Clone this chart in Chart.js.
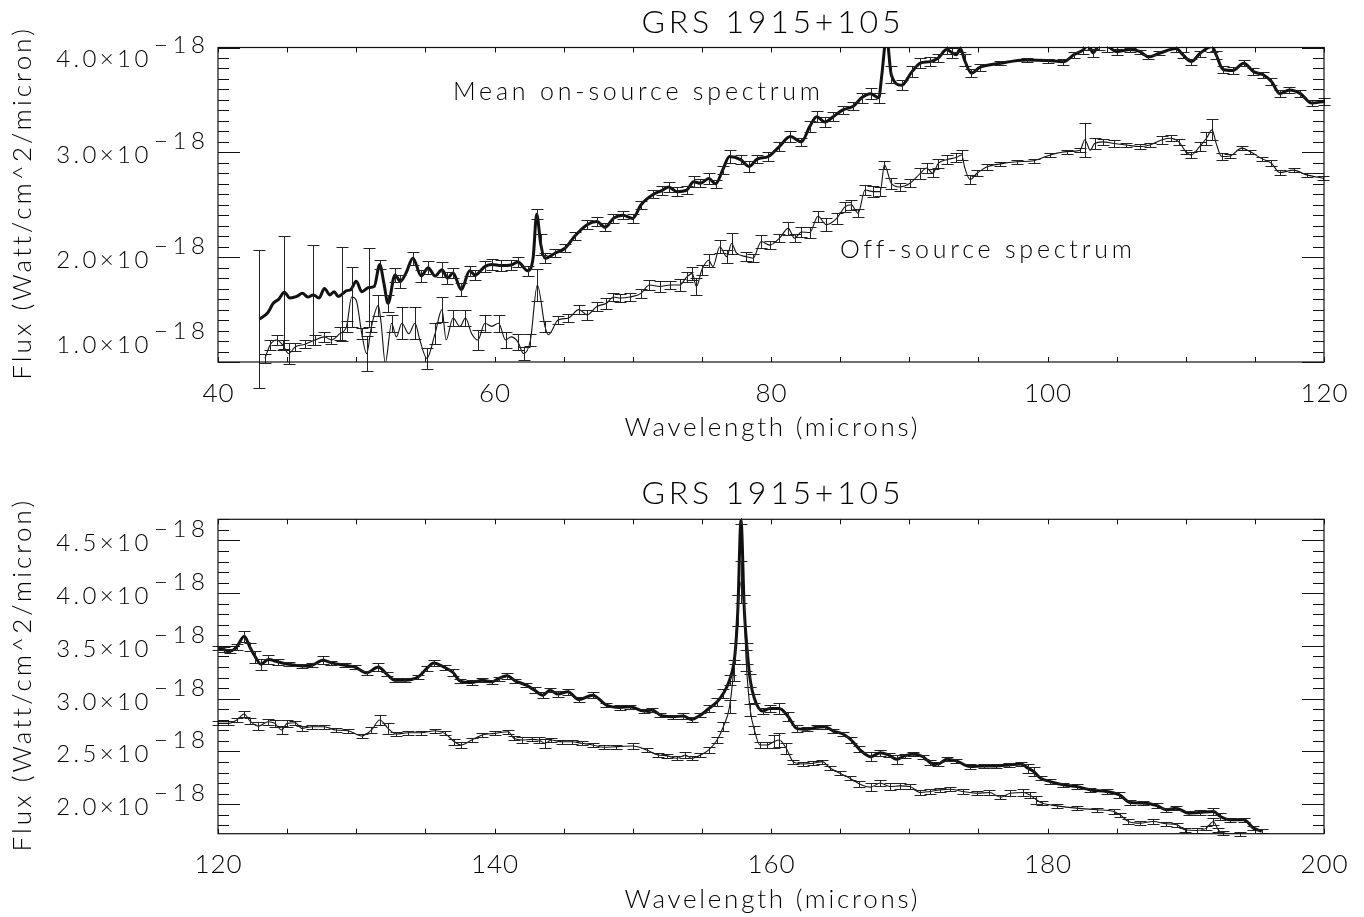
<!DOCTYPE html>
<html>
<head>
<meta charset="utf-8">
<title>GRS 1915+105</title>
<script src="https://cdn.jsdelivr.net/npm/chart.js@4.4.1/dist/chart.umd.min.js"></script>
<style>
  html, body { margin: 0; padding: 0; background: #fff; }
  #wrap { position: relative; width: 1364px; height: 917px; }
  canvas { position: absolute; left: 0; }
</style>
</head>
<body>
<div id="wrap">
  <canvas id="topChart" width="1364" height="458" style="top:0px"></canvas>
  <canvas id="botChart" width="1364" height="459" style="top:458px"></canvas>
</div>
<script>
// flux values are in units of 1e-18 Watt/cm^2/micron

// ----------------------- TOP PANEL (40-120 microns) ----------------------- //
const xTicksA = [40, 60, 80, 100, 120];
const yTicksA = [1.0, 2.0, 3.0, 4.0];

const onWaveA = [43.0,43.6,44.0,44.4,44.8,45.2,45.7,46.1,46.5,46.9,47.3,47.7,48.1,48.4,48.7,49.0,49.3,49.6,50.0,50.4,
  50.9,51.3,51.7,52.0,52.3,52.8,53.2,53.6,54.1,54.7,55.2,55.7,56.2,56.6,57.0,57.6,58.2,58.6,59.3,59.8,
  60.5,61.2,61.7,62.4,62.8,63.05,63.35,63.65,64.4,65.1,65.8,66.7,67.4,68.0,68.6,69.3,70.0,70.6,71.5,72.1,
  72.6,73.2,73.9,74.4,74.9,75.5,76.0,76.5,77.0,77.8,78.4,79.0,79.8,80.6,81.4,82.2,82.8,83.3,83.9,84.5,
  85.2,85.95,86.55,87.2,87.8,88.0,88.36,88.7,89.45,90.2,90.8,91.5,92.1,92.7,93.1,93.4,93.7,94.0,94.5,95.1,
  96.6,98.5,100.0,101.15,101.9,102.6,102.95,103.3,103.7,104.3,105.0,106.0,106.7,107.3,108.1,109.3,109.8,110.4,111.0,111.9,
  112.2,112.7,113.4,114.2,114.9,115.6,116.2,116.8,117.5,118.3,119.1,120.0];
const onFluxA = [1.41,1.47,1.56,1.60,1.665,1.61,1.625,1.655,1.62,1.64,1.61,1.70,1.64,1.67,1.625,1.65,1.68,1.69,1.77,1.67,
  1.71,1.72,1.93,1.75,1.56,1.83,1.77,1.85,1.99,1.82,1.90,1.82,1.88,1.80,1.85,1.69,1.87,1.83,1.91,1.93,
  1.92,1.925,1.955,1.87,2.00,2.41,2.12,1.99,2.04,2.085,2.20,2.31,2.34,2.285,2.37,2.40,2.37,2.50,2.60,2.635,
  2.67,2.625,2.64,2.72,2.705,2.75,2.70,2.83,2.96,2.93,2.865,2.935,2.96,3.055,3.15,3.10,3.245,3.34,3.29,3.34,
  3.405,3.44,3.52,3.56,3.52,3.72,4.10,3.74,3.64,3.77,3.85,3.865,3.90,3.98,3.95,3.93,3.99,3.88,3.755,3.81,
  3.85,3.88,3.875,3.865,3.93,3.98,4.025,3.95,4.01,4.01,3.96,3.98,3.96,3.91,3.945,3.99,3.93,3.865,3.94,4.01,
  3.93,3.79,3.78,3.85,3.77,3.74,3.675,3.56,3.595,3.56,3.47,3.485];
const onErrA = [0.66,0,0,0,0.54,0,0,0,0,0.48,0,0,0,0,0,0.45,0,0,0,0,
  0.38,0,0.04,0,0.08,0.07,0.06,0,0.06,0.06,0.06,0,0.07,0.06,0.05,0.06,0.05,0.05,0.05,0.05,
  0.05,0.05,0.05,0.05,0,0.05,0.10,0.05,0.04,0.04,0.04,0.04,0.04,0.04,0.04,0.04,0.04,0.04,0.04,0.04,
  0.05,0.04,0.04,0.05,0.04,0.05,0.04,0.04,0.06,0.04,0.05,0.04,0.04,0.04,0.05,0.04,0.05,0.05,0.05,0.04,
  0.04,0.04,0.05,0.05,0.05,0,0,0.08,0.05,0.05,0.05,0.04,0.04,0.04,0.05,0,0.03,0.06,0.04,0.03,
  0.02,0.02,0.02,0.03,0.03,0.04,0.05,0.04,0.03,0.05,0.03,0.02,0.02,0.02,0.02,0.03,0.03,0.03,0.03,0.05,
  0.04,0.03,0.03,0.03,0.03,0.03,0.03,0.03,0.03,0.03,0.03,0.03];

const offWaveA = [43.4,43.76,44.24,44.7,45.1,45.6,46.3,47.0,47.7,48.2,48.8,49.3,49.67,50.0,50.4,50.75,51.1,51.6,51.8,52.1,
  52.56,52.9,53.3,53.8,54.25,54.6,55.1,55.7,56.2,56.5,57.0,57.5,57.9,58.35,58.8,59.3,59.8,60.3,60.8,61.2,
  61.7,62.1,62.6,63.1,63.65,63.9,64.6,65.35,66.1,66.7,67.4,68.1,68.6,69.1,69.8,70.6,71.2,71.97,72.7,73.4,
  73.9,74.3,74.6,75.0,75.5,75.8,76.3,76.8,77.15,77.5,78.2,78.7,79.3,79.9,80.6,81.25,81.7,82.2,82.8,83.4,
  84.0,84.75,85.35,85.8,86.3,86.8,87.4,87.9,88.2,88.7,89.3,90.05,90.8,91.25,91.7,92.1,92.7,93.4,93.8,94.0,
  94.4,94.9,95.6,96.6,97.8,99.0,100.2,101.4,102.35,102.7,103.1,103.4,104.0,104.8,105.7,106.7,107.4,108.3,108.9,109.5,
  110.0,110.4,111.0,111.5,111.9,112.2,112.6,113.2,114.05,114.65,115.5,116.2,116.8,117.8,118.75,119.95];
const offFluxA = [1.035,1.16,1.21,1.16,1.08,1.145,1.17,1.21,1.24,1.21,1.27,1.34,1.62,1.59,1.27,1.08,1.34,1.54,1.37,0.99,
  1.37,1.24,1.37,1.27,1.37,1.21,1.035,1.27,1.50,1.21,1.42,1.34,1.42,1.27,1.21,1.37,1.34,1.37,1.21,1.24,
  1.19,1.08,1.21,1.735,1.34,1.26,1.40,1.42,1.50,1.45,1.53,1.56,1.62,1.61,1.62,1.655,1.735,1.72,1.735,1.735,
  1.81,1.845,1.72,1.88,1.97,1.91,2.10,2.005,2.13,2.04,2.005,1.99,2.15,2.115,2.18,2.275,2.18,2.24,2.235,2.39,
  2.31,2.37,2.48,2.50,2.42,2.64,2.625,2.625,2.88,2.705,2.67,2.705,2.80,2.85,2.80,2.895,2.93,2.95,2.975,2.86,
  2.74,2.80,2.86,2.89,2.91,2.92,2.975,3.007,3.02,3.12,3.02,3.085,3.10,3.085,3.07,3.055,3.07,3.12,3.134,3.10,
  3.007,2.975,3.055,3.134,3.214,3.085,2.96,2.965,3.04,3.007,2.94,2.895,2.807,2.83,2.785,2.753];
const offErrA = [0.04,0.05,0.05,0.05,0.10,0.04,0.04,0.05,0.05,0.04,0.06,0.05,0.29,0,0.05,0.17,0.05,0.10,0,0,
  0.08,0,0.15,0,0.15,0,0.10,0.10,0.12,0,0.08,0,0.08,0,0.10,0.08,0,0.08,0.08,0,
  0.08,0.06,0.06,0.15,0.05,0,0.04,0.04,0.04,0.05,0.04,0.05,0.04,0.04,0.04,0.04,0.05,0.05,0.04,0.06,
  0.05,0.06,0.08,0.05,0.06,0,0.06,0.06,0.10,0,0.04,0.04,0.06,0.04,0.04,0.06,0.04,0.05,0.05,0.05,
  0.06,0.05,0.05,0.05,0.04,0.05,0.05,0.04,0.04,0.05,0.04,0.04,0.05,0.05,0.04,0.04,0.04,0.04,0.05,0,
  0.04,0.03,0.03,0.02,0.02,0.02,0.02,0.02,0.02,0.16,0,0.05,0.03,0.03,0.02,0.02,0.02,0.04,0.03,0.03,
  0.02,0.03,0.04,0.06,0.10,0,0.03,0.02,0.02,0.02,0.02,0.03,0.02,0.02,0.02,0.02];

// ----------------------- BOTTOM PANEL (120-200 microns) ----------------------- //
const xTicksB = [120, 140, 160, 180, 200];
const yTicksB = [2.0, 2.5, 3.0, 3.5, 4.0, 4.5];

const onWaveB = [120.0,120.4,120.9,121.35,121.9,122.3,122.7,123.1,123.64,124.36,125.1,126.05,126.8,127.6,128.2,129.2,129.9,130.75,131.6,132.2,
  132.8,133.5,134.5,135.1,135.6,136.4,137.0,137.5,138.35,139.1,139.8,140.3,140.9,141.5,142.3,142.9,143.5,144.0,144.6,145.3,
  146.1,147.1,148.1,149.1,149.8,150.8,151.4,152.0,152.9,153.65,154.25,154.9,155.5,156.1,156.55,157.0,157.4,157.6,157.83,158.07,
  158.3,158.5,158.8,159.4,159.9,160.6,161.25,161.85,162.6,163.3,163.9,164.5,165.2,165.8,166.4,167.2,167.9,168.5,169.1,169.7,
  170.3,171.0,171.5,172.1,172.7,173.4,174.4,175.4,176.3,177.2,178.1,178.6,179.0,179.5,180.2,181.15,182.1,183.1,184.3,185.2,
  185.97,186.9,187.9,188.6,189.3,190.2,191.0,192.0,192.5,193.2,194.2,194.9,195.5];
const onFluxB = [3.48,3.465,3.452,3.49,3.591,3.49,3.396,3.326,3.37,3.348,3.326,3.31,3.317,3.364,3.339,3.317,3.30,3.245,3.30,3.232,
  3.175,3.175,3.207,3.286,3.339,3.295,3.248,3.169,3.153,3.175,3.16,3.19,3.216,3.169,3.128,3.08,3.033,3.08,3.043,3.065,
  2.992,3.033,2.939,2.917,2.923,2.882,2.892,2.844,2.829,2.835,2.803,2.844,2.907,2.97,3.049,3.175,3.427,3.837,4.69,3.837,
  3.427,3.175,3.002,2.882,2.907,2.907,2.829,2.718,2.709,2.728,2.734,2.693,2.665,2.608,2.52,2.45,2.488,2.466,2.425,2.46,
  2.476,2.45,2.394,2.381,2.425,2.41,2.356,2.362,2.362,2.372,2.381,2.34,2.309,2.246,2.214,2.183,2.167,2.135,2.12,2.088,
  2.016,2.01,1.987,1.947,1.962,1.915,1.921,1.931,1.883,1.852,1.852,1.773,1.742];
const onErrB = [0.02,0.02,0.02,0.03,0.05,0.04,0.06,0.05,0.04,0.03,0.02,0.02,0.02,0.04,0.02,0.02,0.02,0.02,0.04,0.02,
  0.02,0.02,0.02,0.02,0.03,0.02,0.03,0.02,0.02,0.02,0.02,0.02,0.03,0.02,0.02,0.03,0.03,0.02,0.03,0.03,
  0.02,0.03,0.02,0.02,0.02,0.02,0.02,0.02,0.02,0.03,0.02,0.02,0.03,0.04,0.04,0.05,0.10,0.15,0.03,0.15,
  0.10,0.06,0.04,0.03,0.03,0.05,0.04,0.03,0.02,0.02,0.02,0.02,0.02,0.03,0.03,0.04,0.03,0.02,0.04,0.02,
  0.02,0.02,0.02,0.02,0.02,0.02,0.02,0.02,0.02,0.02,0.02,0.04,0.04,0.02,0.02,0.02,0.02,0.02,0.02,0.03,
  0.02,0.02,0.02,0.02,0.02,0.02,0.02,0.03,0.03,0.02,0.02,0.02,0.02];

const offWaveB = [120.0,120.75,121.35,121.9,122.3,122.9,123.64,124.1,124.6,125.0,125.6,126.05,126.8,127.7,128.5,129.4,130.4,131.1,131.7,132.3,
  132.9,133.75,134.7,135.7,136.4,137.1,137.6,138.35,139.1,140.0,141.0,141.4,142.0,142.7,143.2,143.65,144.1,144.85,145.6,146.3,
  147.1,147.9,148.8,150.0,151.0,151.85,152.45,153.2,153.8,154.25,154.9,155.5,156.1,156.55,157.0,157.3,157.6,157.83,158.05,158.2,
  158.5,158.8,159.2,159.7,160.2,160.6,161.1,161.6,162.3,163.05,163.7,164.3,165.0,165.7,166.4,167.2,167.9,168.6,169.3,170.05,
  170.8,171.5,172.2,172.95,173.9,174.9,175.8,176.6,177.3,178.25,178.7,179.2,179.6,180.7,182.1,183.6,184.8,185.25,185.85,186.7,
  187.65,188.6,189.35,189.95,190.8,191.5,192.0,192.35,192.7,193.9];
const offFluxB = [2.766,2.766,2.797,2.854,2.791,2.74,2.781,2.766,2.703,2.766,2.772,2.718,2.734,2.734,2.703,2.696,2.646,2.703,2.797,2.718,
  2.665,2.677,2.677,2.696,2.671,2.592,2.561,2.608,2.655,2.671,2.687,2.624,2.608,2.614,2.608,2.577,2.608,2.592,2.592,2.577,
  2.561,2.539,2.545,2.551,2.514,2.466,2.46,2.435,2.466,2.435,2.466,2.514,2.608,2.734,2.923,3.27,3.837,4.105,3.837,3.364,
  2.892,2.703,2.561,2.561,2.592,2.608,2.53,2.403,2.381,2.388,2.403,2.34,2.293,2.246,2.192,2.161,2.2,2.167,2.173,2.167,
  2.11,2.12,2.135,2.142,2.12,2.104,2.11,2.066,2.104,2.11,2.088,2.041,2.01,1.984,1.962,1.947,1.931,1.899,1.836,1.82,
  1.836,1.814,1.805,1.757,1.751,1.773,1.836,1.757,1.726,1.72];
const offErrB = [0.02,0.02,0.02,0.03,0.03,0.04,0.03,0.03,0.04,0.03,0.02,0.02,0.02,0.02,0.02,0.02,0.02,0.03,0.05,0.05,
  0.02,0.02,0.02,0.02,0.02,0.03,0.03,0.02,0.02,0.02,0.02,0.02,0.03,0.02,0.03,0.04,0.02,0.02,0.02,0.02,
  0.02,0.02,0.02,0.03,0.02,0.02,0.02,0.02,0.03,0.02,0.02,0.03,0.03,0.04,0.06,0.10,0.15,0.20,0.15,0.10,
  0.06,0.04,0.03,0.03,0.06,0.07,0.05,0.02,0.02,0.02,0.02,0.02,0.02,0.02,0.03,0.04,0.03,0.03,0.03,0.02,
  0.02,0.02,0.02,0.02,0.02,0.02,0.02,0.02,0.03,0.03,0.03,0.04,0.02,0.02,0.02,0.02,0.02,0.02,0.02,0.02,
  0.02,0.02,0.02,0.02,0.02,0.02,0.03,0.02,0.02,0.02];

const INK = '#111';
const FONT = 'Lato, "DejaVu Sans", sans-serif';

const pts = (xs, ys) => xs.map((v, i) => ({ x: v, y: ys[i] }));

// draws text stretched (letter spacing) to a given width, like the old IDL vector font
function spaced(ctx, str, x, y, width, align) {
  ctx.letterSpacing = '0px';
  const n = [...str].length;
  const w0 = ctx.measureText(str).width;
  const sp = n > 1 ? (width - w0) / (n - 1) : 0;
  ctx.letterSpacing = sp + 'px';
  ctx.textAlign = 'left';
  let x0 = x;
  if (align === 'center') x0 = x - width / 2;
  if (align === 'right') x0 = x - width;
  ctx.fillText(str, x0, y);
  ctx.letterSpacing = '0px';
}

// error bars: vertical line + caps, from each dataset's errors array
const errorBars = {
  id: 'errorBars',
  afterDatasetsDraw(chart) {
    const { ctx, chartArea: a } = chart;
    const xs = chart.scales.x, ys = chart.scales.y;
    ctx.save();
    ctx.beginPath();
    ctx.rect(0, a.top - 1, chart.width, chart.height);
    ctx.clip();
    ctx.strokeStyle = '#222';
    ctx.lineWidth = 1;
    chart.data.datasets.forEach(ds => {
      if (!ds.errors) return;
      ctx.beginPath();
      ds.data.forEach((p, i) => {
        const e = ds.errors[i];
        if (!e) return;
        const px = Math.round(xs.getPixelForValue(p.x)) + 0.5;
        const y1 = Math.round(ys.getPixelForValue(p.y + e)) + 0.5;
        const y2 = Math.round(ys.getPixelForValue(p.y - e)) + 0.5;
        ctx.moveTo(px, y1); ctx.lineTo(px, y2);
        ctx.moveTo(px - 6, y1); ctx.lineTo(px + 6, y1);
        ctx.moveTo(px - 6, y2); ctx.lineTo(px + 6, y2);
      });
      ctx.stroke();
    });
    ctx.restore();
  }
};

// IDL-looking box, inward ticks and all the text
function idlFrame(cfg) {
  return {
    id: 'idlFrame',
    afterDraw(chart) {
      const { ctx, chartArea: a } = chart;
      const xs = chart.scales.x, ys = chart.scales.y;
      const cx = (a.left + a.right) / 2, cy = (a.top + a.bottom) / 2;
      ctx.save();
      ctx.strokeStyle = INK;
      ctx.lineWidth = 1.2;
      ctx.strokeRect(a.left, a.top, a.right - a.left, a.bottom - a.top);

      ctx.lineWidth = 1;
      ctx.beginPath();
      for (let k = Math.ceil(xs.min / cfg.xMinor - 1e-6); k <= Math.floor(xs.max / cfg.xMinor + 1e-6); k++) {
        const px = Math.round(xs.getPixelForValue(k * cfg.xMinor)) + 0.5;
        ctx.moveTo(px, a.bottom); ctx.lineTo(px, a.bottom - 5);
        ctx.moveTo(px, a.top); ctx.lineTo(px, a.top + 5);
      }
      for (let k = Math.ceil(ys.min / cfg.yMinor - 1e-6); k <= Math.floor(ys.max / cfg.yMinor + 1e-6); k++) {
        const v = k * cfg.yMinor;
        const major = cfg.yTicks.some(t => Math.abs(t - v) < 1e-6);
        const len = major ? 22 : 11;
        const py = Math.round(ys.getPixelForValue(v)) + 0.5;
        ctx.moveTo(a.left, py); ctx.lineTo(a.left + len, py);
        ctx.moveTo(a.right, py); ctx.lineTo(a.right - len, py);
      }
      ctx.stroke();

      ctx.fillStyle = '#000';
      ctx.textBaseline = 'alphabetic';

      // title
      ctx.font = '300 32px ' + FONT;
      spaced(ctx, 'GRS 1915+105', cx, a.top - 15, 259, 'center');

      // x tick labels + title
      ctx.font = '300 26px ' + FONT;
      cfg.xTicks.forEach(t => {
        const s = String(t);
        spaced(ctx, s, xs.getPixelForValue(t), a.bottom + 39.7, 16 * s.length - 1, 'center');
      });
      spaced(ctx, 'Wavelength (microns)', cx, a.bottom + 74, 293, 'center');

      // y tick labels: base x 10 with raised exponent
      ctx.font = '300 24px ' + FONT;
      cfg.yTicks.forEach(t => {
        const py = ys.getPixelForValue(t);
        const base = Math.min(Math.max(py + 11, a.top + 19), a.bottom - 8.7);
        spaced(ctx, t.toFixed(1) + '\u00d710', 148.3, base, 92, 'right');
        spaced(ctx, '\u221218', 154, base - 14, 51, 'left');
      });

      // y title (rotated)
      ctx.font = '300 26px ' + FONT;
      ctx.save();
      ctx.translate(30.5, cy);
      ctx.rotate(-Math.PI / 2);
      spaced(ctx, 'Flux (Watt/cm^2/micron)', 0, 0, 350, 'center');
      ctx.restore();

      // in-plot notes
      ctx.font = '300 25px ' + FONT;
      (cfg.notes || []).forEach(n => spaced(ctx, n.text, n.x, n.y, n.w, 'left'));
      ctx.restore();
    }
  };
}

function makeChart(id, cfg) {
  return new Chart(document.getElementById(id), {
    type: 'line',
    data: {
      datasets: [
        { label: 'Off-source', data: pts(cfg.offWave, cfg.offFlux), errors: cfg.offErr,
          borderColor: INK, borderWidth: 1.1 },
        { label: 'On-source', data: pts(cfg.onWave, cfg.onFlux), errors: cfg.onErr,
          borderColor: INK, borderWidth: 3 }
      ]
    },
    options: {
      responsive: false,
      animation: false,
      devicePixelRatio: 1,
      layout: { padding: cfg.pad },
      elements: {
        point: { radius: 0, hoverRadius: 0 },
        line: { cubicInterpolationMode: 'monotone', fill: false }
      },
      scales: {
        x: { type: 'linear', min: cfg.xMin, max: cfg.xMax, display: false },
        y: { type: 'linear', min: cfg.yMin, max: cfg.yMax, display: false }
      },
      plugins: { legend: { display: false }, tooltip: { enabled: false } }
    },
    plugins: [errorBars, idlFrame(cfg)]
  });
}

makeChart('topChart', {
  onWave: onWaveA, onFlux: onFluxA, onErr: onErrA,
  offWave: offWaveA, offFlux: offFluxA, offErr: offErrA,
  xMin: 40, xMax: 120, yMin: 1.0, yMax: 4.0,
  xTicks: xTicksA, yTicks: yTicksA, xMinor: 5, yMinor: 0.1,
  pad: { left: 218, right: 40, top: 47.5, bottom: 96 },
  notes: [
    { text: 'Mean on-source spectrum', x: 453, y: 100, w: 367 },
    { text: 'Off-source spectrum', x: 840, y: 258, w: 291 }
  ]
});

makeChart('botChart', {
  onWave: onWaveB, onFlux: onFluxB, onErr: onErrB,
  offWave: offWaveB, offFlux: offFluxB, offErr: offErrB,
  xMin: 120, xMax: 200, yMin: 1.72, yMax: 4.70,
  xTicks: xTicksB, yTicks: yTicksB, xMinor: 5, yMinor: 0.1,
  pad: { left: 218, right: 40, top: 61.3, bottom: 83.3 }
});
</script>
</body>
</html>
